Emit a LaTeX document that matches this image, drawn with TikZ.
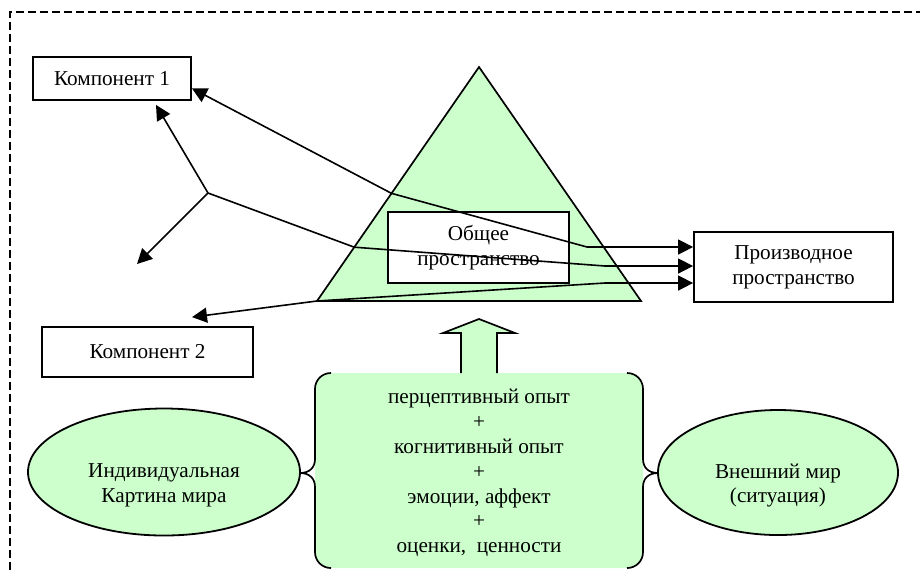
\documentclass[tikz,border=0pt]{standalone}
\usepackage{fontspec}
\setmainfont{Liberation Serif}
\usepackage{tikz}
\usetikzlibrary{calc,arrows.meta,shapes.geometric}
\definecolor{pale}{HTML}{CCFFCC}
\newcommand{\diagfont}{\fontsize{10.6pt}{12.4pt}\selectfont}
\tikzset{
  dashframe/.style={draw=black, line width=0.75pt, dash pattern=on 4pt off 2pt},
  outline/.style={draw=black, line width=0.85pt},
  box/.style={rectangle, draw=black, fill=white, line width=0.9pt, inner sep=0pt, align=center, font=\diagfont},
  oval/.style={ellipse, draw=black, fill=pale, line width=0.9pt, inner sep=0pt},
  txt/.style={align=center, font=\diagfont, inner sep=0pt},
  link/.style={draw=black, line width=0.8pt},
  arr/.style={-{Triangle[length=7.5pt,width=7.5pt]}},
  arrboth/.style={{Triangle[length=7.5pt,width=7.5pt]}-{Triangle[length=7.5pt,width=7.5pt]}},
}
\begin{document}
\begin{tikzpicture}[x=0.5pt,y=-0.5pt]
  \useasboundingbox (0,0) rectangle (920,570);
  \draw[dashframe] (10,570) -- (10,12) -- (920,12);

  \coordinate (apex) at (479,67);
  \coordinate (bl) at (317,301);
  \coordinate (br) at (641,301);
  \filldraw[pale, outline] (apex) -- (bl) -- (br) -- cycle;

  \node[box, minimum width=90.5pt, minimum height=35.5pt] (obsh) at (478.5,247.5) {Общее\\пространство};
  \node[box, minimum width=79pt, minimum height=21.5pt] (komp1) at (112,78.5) {Компонент 1};
  \node[box, minimum width=105.5pt, minimum height=25pt] (komp2) at (147.5,352) {Компонент 2};

  % brace box with the block arrow
  \fill[pale, rounded corners=8pt] (315,373) rectangle (643,568);
  \draw[outline] (331,373) .. controls (322,373) and (315,380) .. (315,389) -- (315,459)
    .. controls (315,468) and (309,473) .. (300,473) .. controls (309,473) and (315,478) .. (315,487)
    -- (315,552) .. controls (315,561) and (322,568) .. (331,568);
  \draw[outline] (627,373) .. controls (636,373) and (643,380) .. (643,389) -- (643,459)
    .. controls (643,468) and (649,473) .. (658,473) .. controls (649,473) and (643,478) .. (643,487)
    -- (643,552) .. controls (643,561) and (636,568) .. (627,568);
  \fill[pale] (461,374) -- (461,333) -- (443,333) -- (479,319) -- (515,333) -- (497,333) -- (497,374) -- cycle;
  \draw[outline] (461,373) -- (461,333) -- (443,333) -- (479,319) -- (515,333) -- (497,333) -- (497,373);
  \node[txt] (opyt) at (479,473) {перцептивный опыт\\+\\когнитивный опыт\\+\\эмоции, аффект\\+\\оценки, \ ценности};

  \node[oval, minimum width=136pt, minimum height=63.5pt] (kart) at (164,472) {};
  \node[txt] (kartT) at ([yshift=-6.5pt]kart.center) {Индивидуальная\\Картина мира};
  \node[oval, minimum width=120pt, minimum height=62.5pt] (mir) at (778,472.5) {};
  \node[txt] (mirT) at ([yshift=-6.5pt]mir.center) {Внешний мир\\(ситуация)};

  \node[box, minimum width=99.5pt, minimum height=35pt] (proizv) at (793.5,267) {Производное\\пространство};

  \coordinate (e1) at ($(apex)!0.54!(bl)$);
  \coordinate (e2) at ($(apex)!0.77!(bl)$);
  \coordinate (fork) at (208,193);
  \coordinate (loose) at (137,264);
  \coordinate (h1) at (587,247);
  \coordinate (h2) at (605,266);
  \coordinate (h3) at (605,283);

  \draw[link, arrboth] (komp1.-7) -- (e1) -- (h1) -- (h1 -| proizv.west);
  \draw[link, arr] (fork) -- ([xshift=22pt,yshift=-2pt]komp1.south);
  \draw[link, arr] (fork) -- (loose);
  \draw[link, arr] (fork) -- (e2) -- (h2) -- (h2 -| proizv.west);
  \draw[link, arrboth] ([xshift=22.25pt,yshift=4.5pt]komp2.north) -- (bl) -- (h3) -- (h3 -| proizv.west);
\end{tikzpicture}
\end{document}
